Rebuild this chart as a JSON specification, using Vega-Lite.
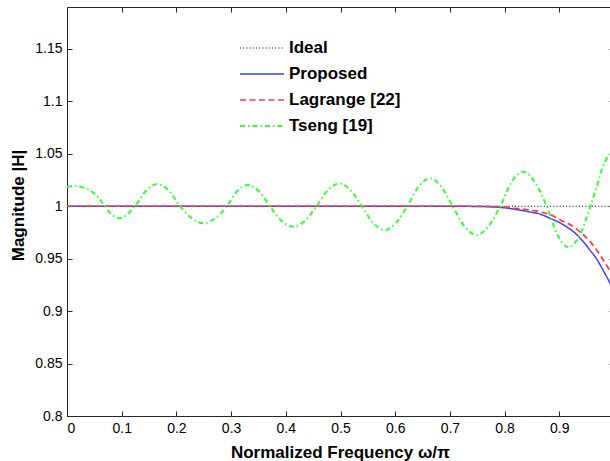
{
  "$schema": "https://vega.github.io/schema/vega-lite/v6.json",
  "width": 547,
  "height": 409,
  "autosize": {"type": "none"},
  "padding": {"left": 67, "top": 7, "right": 0, "bottom": 45},
  "background": "white",
  "config": {
    "view": {"stroke": null},
    "axis": {
      "labelFont": "Liberation Sans",
      "titleFont": "Liberation Sans",
      "labelFontSize": 14,
      "titleFontSize": 17,
      "titleFontWeight": "bold",
      "labelColor": "#000000",
      "titleColor": "#000000",
      "domainColor": "#262626",
      "tickColor": "#262626",
      "domainWidth": 1,
      "tickWidth": 1,
      "grid": false
    }
  },
  "data": {
    "values": [
      {"s": "Ideal", "x": 0, "y": 1},
      {"s": "Ideal", "x": 1, "y": 1},
      {"s": "Proposed", "x": 0, "y": 1},
      {"s": "Proposed", "x": 0.7, "y": 1},
      {"s": "Proposed", "x": 0.75, "y": 0.9998},
      {"s": "Proposed", "x": 0.78, "y": 0.9993},
      {"s": "Proposed", "x": 0.8, "y": 0.9985},
      {"s": "Proposed", "x": 0.82, "y": 0.997},
      {"s": "Proposed", "x": 0.846, "y": 0.9946},
      {"s": "Proposed", "x": 0.865, "y": 0.9925},
      {"s": "Proposed", "x": 0.883, "y": 0.9885},
      {"s": "Proposed", "x": 0.9, "y": 0.9845},
      {"s": "Proposed", "x": 0.913, "y": 0.9805},
      {"s": "Proposed", "x": 0.926, "y": 0.9757},
      {"s": "Proposed", "x": 0.944, "y": 0.9662},
      {"s": "Proposed", "x": 0.956, "y": 0.9582},
      {"s": "Proposed", "x": 0.968, "y": 0.95},
      {"s": "Proposed", "x": 0.98, "y": 0.939},
      {"s": "Proposed", "x": 0.993, "y": 0.9265},
      {"s": "Proposed", "x": 1, "y": 0.919},
      {"s": "Lagrange [22]", "x": 0, "y": 1},
      {"s": "Lagrange [22]", "x": 0.75, "y": 1},
      {"s": "Lagrange [22]", "x": 0.78, "y": 0.9998},
      {"s": "Lagrange [22]", "x": 0.8, "y": 0.9994},
      {"s": "Lagrange [22]", "x": 0.82, "y": 0.998},
      {"s": "Lagrange [22]", "x": 0.846, "y": 0.9964},
      {"s": "Lagrange [22]", "x": 0.865, "y": 0.9946},
      {"s": "Lagrange [22]", "x": 0.889, "y": 0.9907},
      {"s": "Lagrange [22]", "x": 0.902, "y": 0.987},
      {"s": "Lagrange [22]", "x": 0.926, "y": 0.9805},
      {"s": "Lagrange [22]", "x": 0.938, "y": 0.9755},
      {"s": "Lagrange [22]", "x": 0.956, "y": 0.9665},
      {"s": "Lagrange [22]", "x": 0.968, "y": 0.9585},
      {"s": "Lagrange [22]", "x": 0.98, "y": 0.949},
      {"s": "Lagrange [22]", "x": 0.993, "y": 0.938},
      {"s": "Lagrange [22]", "x": 1, "y": 0.9315},
      {"s": "Tseng [19]", "x": 0, "y": 1.0186},
      {"s": "Tseng [19]", "x": 0.015, "y": 1.0192},
      {"s": "Tseng [19]", "x": 0.03, "y": 1.0178},
      {"s": "Tseng [19]", "x": 0.045, "y": 1.0142},
      {"s": "Tseng [19]", "x": 0.058, "y": 1.0078},
      {"s": "Tseng [19]", "x": 0.069, "y": 1.0},
      {"s": "Tseng [19]", "x": 0.081, "y": 0.9925},
      {"s": "Tseng [19]", "x": 0.095, "y": 0.9885},
      {"s": "Tseng [19]", "x": 0.109, "y": 0.9918},
      {"s": "Tseng [19]", "x": 0.124, "y": 1.0},
      {"s": "Tseng [19]", "x": 0.145, "y": 1.015},
      {"s": "Tseng [19]", "x": 0.165, "y": 1.0212},
      {"s": "Tseng [19]", "x": 0.186, "y": 1.015},
      {"s": "Tseng [19]", "x": 0.207, "y": 1.0},
      {"s": "Tseng [19]", "x": 0.228, "y": 0.9885},
      {"s": "Tseng [19]", "x": 0.25, "y": 0.9837},
      {"s": "Tseng [19]", "x": 0.271, "y": 0.9885},
      {"s": "Tseng [19]", "x": 0.292, "y": 1.0},
      {"s": "Tseng [19]", "x": 0.311, "y": 1.0143},
      {"s": "Tseng [19]", "x": 0.33, "y": 1.0202},
      {"s": "Tseng [19]", "x": 0.351, "y": 1.0143},
      {"s": "Tseng [19]", "x": 0.371, "y": 1.0},
      {"s": "Tseng [19]", "x": 0.392, "y": 0.9862},
      {"s": "Tseng [19]", "x": 0.414, "y": 0.9805},
      {"s": "Tseng [19]", "x": 0.435, "y": 0.9862},
      {"s": "Tseng [19]", "x": 0.456, "y": 1.0},
      {"s": "Tseng [19]", "x": 0.477, "y": 1.0154},
      {"s": "Tseng [19]", "x": 0.498, "y": 1.0218},
      {"s": "Tseng [19]", "x": 0.518, "y": 1.0154},
      {"s": "Tseng [19]", "x": 0.539, "y": 1.0},
      {"s": "Tseng [19]", "x": 0.56, "y": 0.9839},
      {"s": "Tseng [19]", "x": 0.581, "y": 0.9773},
      {"s": "Tseng [19]", "x": 0.601, "y": 0.9839},
      {"s": "Tseng [19]", "x": 0.622, "y": 1.0},
      {"s": "Tseng [19]", "x": 0.643, "y": 1.0188},
      {"s": "Tseng [19]", "x": 0.664, "y": 1.0266},
      {"s": "Tseng [19]", "x": 0.684, "y": 1.0188},
      {"s": "Tseng [19]", "x": 0.705, "y": 1.0},
      {"s": "Tseng [19]", "x": 0.727, "y": 0.9806},
      {"s": "Tseng [19]", "x": 0.749, "y": 0.9725},
      {"s": "Tseng [19]", "x": 0.77, "y": 0.9806},
      {"s": "Tseng [19]", "x": 0.792, "y": 1.0},
      {"s": "Tseng [19]", "x": 0.813, "y": 1.0233},
      {"s": "Tseng [19]", "x": 0.834, "y": 1.0329},
      {"s": "Tseng [19]", "x": 0.855, "y": 1.0233},
      {"s": "Tseng [19]", "x": 0.877, "y": 1.0},
      {"s": "Tseng [19]", "x": 0.897, "y": 0.9723},
      {"s": "Tseng [19]", "x": 0.917, "y": 0.9608},
      {"s": "Tseng [19]", "x": 0.937, "y": 0.9723},
      {"s": "Tseng [19]", "x": 0.957, "y": 1.0},
      {"s": "Tseng [19]", "x": 0.968, "y": 1.018},
      {"s": "Tseng [19]", "x": 0.98, "y": 1.038},
      {"s": "Tseng [19]", "x": 0.99, "y": 1.048},
      {"s": "Tseng [19]", "x": 1, "y": 1.052}
    ]
  },
  "layer": [
    {
      "mark": {"type": "line", "interpolate": "monotone", "clip": true},
      "encoding": {
        "x": {
          "field": "x",
          "type": "quantitative",
          "scale": {"domain": [0, 1], "nice": false, "zero": false},
          "axis": {
            "orient": "bottom",
            "values": [0, 0.1, 0.2, 0.3, 0.4, 0.5, 0.6, 0.7, 0.8, 0.9],
            "format": "~g",
            "tickSize": -5,
            "labelPadding": 10,
            "title": "Normalized Frequency ω/π",
            "titleFontSize": 17,
            "titleFontWeight": "bold",
            "titleX": 273,
            "titleY": 41,
            "titleAlign": "center",
            "titleBaseline": "alphabetic"
          }
        },
        "y": {
          "field": "y",
          "type": "quantitative",
          "scale": {"domain": [0.8, 1.19], "nice": false, "zero": false},
          "axis": {
            "orient": "left",
            "values": [0.8, 0.85, 0.9, 0.95, 1, 1.05, 1.1, 1.15],
            "format": "~g",
            "tickSize": -5,
            "labelPadding": 10,
            "title": "Magnitude |H|",
            "titleFontSize": 17,
            "titleFontWeight": "bold",
            "titleAngle": -90,
            "titleX": -44,
            "titleY": 198,
            "titleAlign": "center",
            "titleBaseline": "alphabetic"
          }
        },
        "color": {
          "field": "s",
          "type": "nominal",
          "scale": {
            "domain": ["Ideal", "Proposed", "Lagrange [22]", "Tseng [19]"],
            "range": ["#000000", "#3c3cff", "#ff3c3c", "#33ff33"]
          },
          "legend": {
            "orient": "none",
            "legendX": 172,
            "legendY": 28,
            "title": null,
            "padding": 0,
            "symbolType": "stroke",
            "symbolSize": 1936,
            "clipHeight": 26,
            "rowPadding": 0,
            "labelOffset": 4,
            "labelFont": "Liberation Sans",
            "labelFontSize": 17,
            "labelFontWeight": "bold",
            "labelColor": "#000000"
          }
        },
        "strokeDash": {
          "field": "s",
          "type": "nominal",
          "scale": {
            "domain": ["Ideal", "Proposed", "Lagrange [22]", "Tseng [19]"],
            "range": [[1, 2.2], [1, 0], [6, 3.5], [5, 3, 1.5, 3]]
          },
          "legend": null
        },
        "strokeWidth": {
          "field": "s",
          "type": "nominal",
          "scale": {
            "domain": ["Ideal", "Proposed", "Lagrange [22]", "Tseng [19]"],
            "range": [1.2, 2, 2, 1.7]
          },
          "legend": null
        }
      }
    },
    {
      "mark": {"type": "point", "opacity": 0},
      "encoding": {
        "x": {
          "field": "x",
          "type": "quantitative",
          "scale": {"domain": [0, 1], "nice": false, "zero": false},
          "axis": {
            "orient": "top",
            "values": [0, 0.1, 0.2, 0.3, 0.4, 0.5, 0.6, 0.7, 0.8, 0.9],
            "labels": false,
            "tickSize": -5,
            "title": null
          }
        },
        "y": {
          "field": "y",
          "type": "quantitative",
          "scale": {"domain": [0.8, 1.19], "nice": false, "zero": false},
          "axis": {
            "orient": "right",
            "values": [0.8, 0.85, 0.9, 0.95, 1, 1.05, 1.1, 1.15],
            "labels": false,
            "tickSize": -5,
            "title": null
          }
        }
      }
    }
  ],
  "resolve": {"axis": {"x": "independent", "y": "independent"}}
}
